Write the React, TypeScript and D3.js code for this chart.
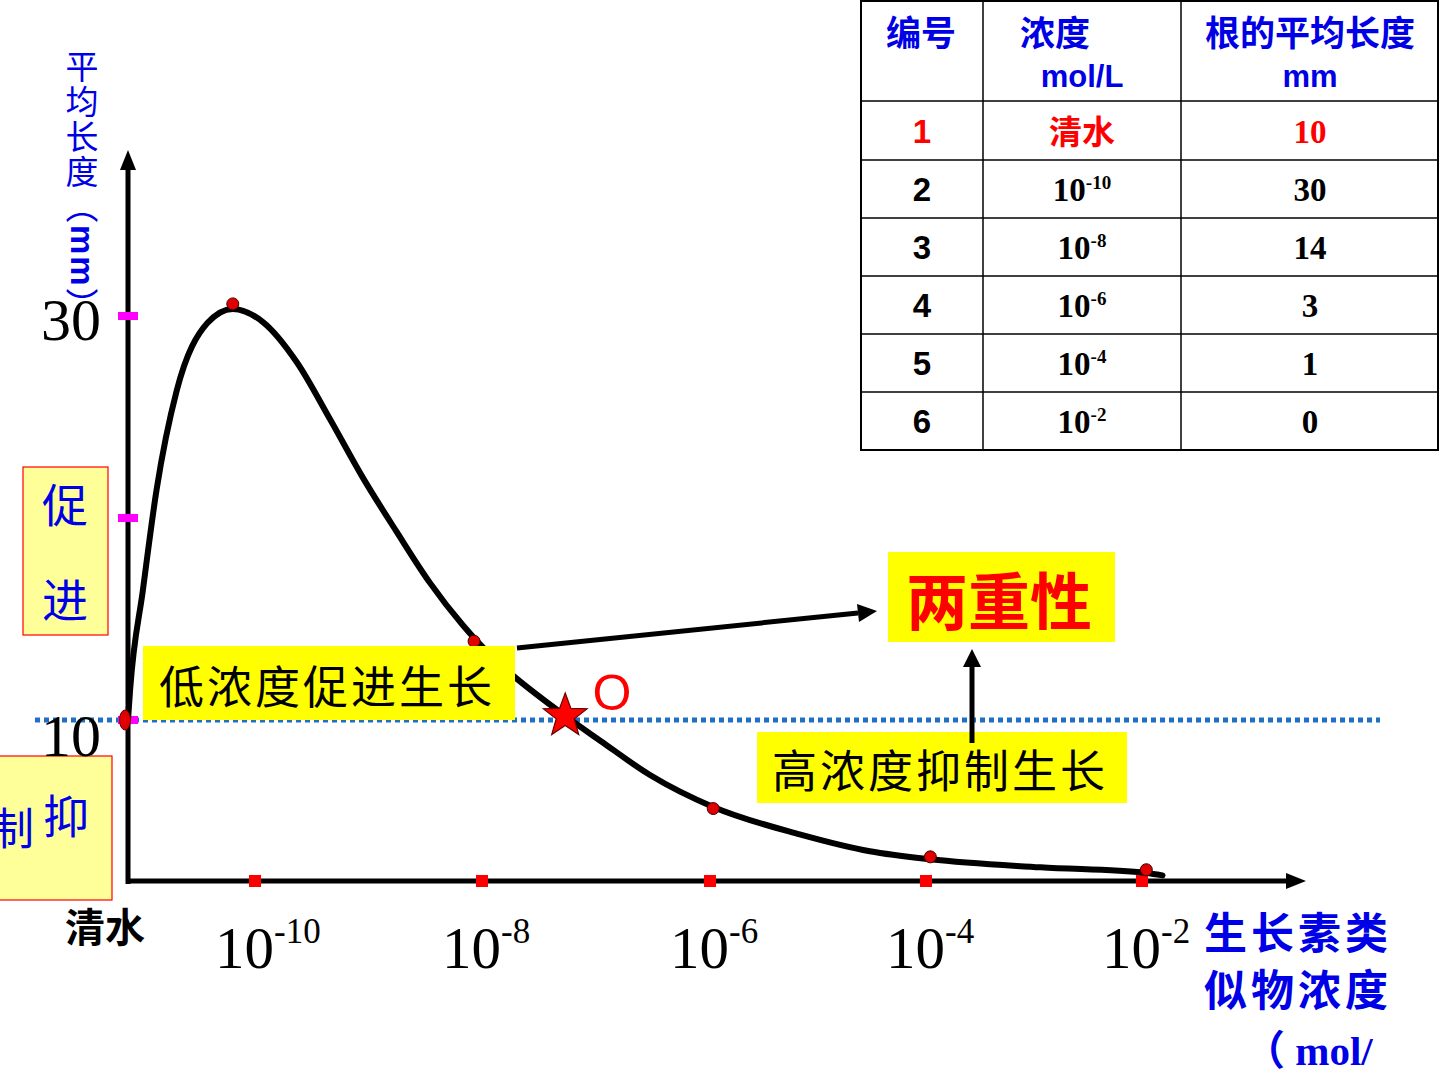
import React from "react";
import * as d3 from "d3";

// ---- data ----
const tableIds = ["1", "2", "3", "4", "5", "6"];
const tableConcExp = ["", "-10", "-8", "-6", "-4", "-2"];
const tableLengths = ["10", "30", "14", "3", "1", "0"];

// x is the exponent of the concentration; 清水 sits at the axis origin
const pointExp = [-11.2, -10.21, -8.07, -5.97, -3.96, -1.96];
const pointValue = [10, 30.6, 13.9, 4.5, 1.5, 0.7];

const curveExp = [-11.2, -11.18, -11.06, -10.93, -10.74, -10.45, -10.21, -9.93, -9.63, -9.34, -9.05, -8.75, -8.46, -8.17, -8.06, -7.27, -6.96, -6.53, -5.97, -5.17, -4.52, -3.96, -2.94, -1.96, -1.81];
const curveValue = [10, 11.5, 16.4, 21.4, 26.3, 29.65, 30.35, 29.7, 27.7, 24.9, 22.0, 19.3, 16.8, 14.7, 14.0, 10.2, 8.7, 6.6, 4.6, 2.9, 1.85, 1.35, 0.85, 0.5, 0.35];

const xTickExp = [-10, -8, -6, -4, -2];
const yTickValues = [10, 20, 30];
const yTickLabels = ["10", "", "30"];

const starExp = -7.27;
const starValue = 10.2;

const BLUE = "#0000e6";
const SERIF = "'Liberation Serif', 'Times New Roman', serif";
const SANS = "'Liberation Sans', Arial, sans-serif";
const CJK = "'Noto Sans CJK SC', sans-serif";

export default function App() {
  const x = d3.scaleLinear().domain([-11.2, -10, -8, -6, -4, -2]).range([128, 255, 482, 710, 926, 1142]);
  const y = d3.scaleLinear().domain([0, 10, 30]).range([881, 720, 316]);

  const curvePts = curveExp.map((e, i) => [x(e), y(curveValue[i])] as [number, number]);
  const line = d3.line().curve(d3.curveMonotoneX);
  const curvePath = line(curvePts) || "";

  const x0 = x(-11.2);
  const yAxisY = y(0);

  // star
  const sx = x(starExp), sy = y(starValue);
  const starPts: string[] = [];
  for (let i = 0; i < 10; i++) {
    const r = i % 2 === 0 ? 23 : 9.5;
    const a = -Math.PI / 2 + (i * Math.PI) / 5;
    starPts.push(`${sx + r * Math.cos(a)},${sy + r * Math.sin(a)}`);
  }

  // table geometry
  const colX = [861, 983, 1181, 1438];
  const rowY = [1, 101, 160, 218, 276, 334, 392, 450];

  return (
    <svg width={1440} height={1080} style={{ position: "absolute", left: 0, top: 0, background: "#fff" }}>
      {/* blue dotted reference line at 10 */}
      <line x1={35} x2={1380} y1={y(10)} y2={y(10)} stroke="#1f6fc4" strokeWidth={5} strokeDasharray="5 4" />

      {/* left boxes */}
      <rect x={23} y={467} width={85} height={168} fill="#ffff99" stroke="#ff0000" strokeWidth={1.2} />
      <text x={65} y={522} fontSize={46} fill={BLUE} fontFamily={CJK} textAnchor="middle">促</text>
      <text x={65} y={617} fontSize={46} fill={BLUE} fontFamily={CJK} textAnchor="middle">进</text>
      <rect x={-2} y={756} width={114} height={144} fill="#ffff99" stroke="#ff0000" strokeWidth={1.2} />
      <text x={12} y={845} fontSize={44} fill={BLUE} fontFamily={CJK} textAnchor="middle">制</text>
      <text x={66} y={833} fontSize={46} fill={BLUE} fontFamily={CJK} textAnchor="middle">抑</text>

      {/* y axis title (vertical) */}
      <text x={82} y={50} fontSize={33} fill={BLUE} fontFamily={CJK} style={{ writingMode: "vertical-rl" as any }} letterSpacing={2}>
        平均长度（<tspan fontFamily={SANS} fontWeight="bold">mm</tspan>）
      </text>

      {/* y tick labels */}
      {yTickValues.map((v, i) =>
        yTickLabels[i] ? (
          <text key={"yl" + v} x={101} y={y(v) + (v === 10 ? 36 : 24)} fontSize={60} fontFamily={SERIF} textAnchor="end" fill="#000">
            {yTickLabels[i]}
          </text>
        ) : null
      )}

      {/* axes */}
      <line x1={x0} x2={x0} y1={166} y2={yAxisY + 3} stroke="#000" strokeWidth={5} />
      <polygon points={`${x0},150 ${x0 - 8},170 ${x0 + 8},170`} fill="#000" />
      <line x1={x0 - 2} x2={1290} y1={yAxisY} y2={yAxisY} stroke="#000" strokeWidth={5} />
      <polygon points={`1306,${yAxisY} 1286,${yAxisY - 8} 1286,${yAxisY + 8}`} fill="#000" />

      {/* magenta y ticks */}
      {yTickValues.map((v) => (
        <rect key={"yt" + v} x={x0 - 10} y={y(v) - 4} width={20} height={8} fill="#ff00ff" />
      ))}

      {/* red x ticks */}
      {xTickExp.map((e) => (
        <rect key={"xt" + e} x={x(e) - 6} y={yAxisY - 6} width={12} height={12} fill="#ff0000" />
      ))}

      {/* curve */}
      <path d={curvePath} fill="none" stroke="#000" strokeWidth={6} strokeLinecap="round" strokeLinejoin="round" />

      {/* data points */}
      {pointExp.map((e, i) =>
        i === 0 ? (
          <ellipse key={"p" + i} cx={x(e) - 3} cy={y(pointValue[i])} rx={5.5} ry={10} fill="#e00000" stroke="#600" strokeWidth={1} />
        ) : (
          <circle key={"p" + i} cx={x(e)} cy={y(pointValue[i])} r={6} fill="#e00000" stroke="#400" strokeWidth={1} />
        )
      )}

      {/* x tick labels */}
      <text x={65} y={942} fontSize={40} fontFamily={CJK} fontWeight="bold" fill="#000">清水</text>
      {xTickExp.map((e) => (
        <text key={"xl" + e} x={x(e) - 40} y={968} fontSize={59} fontFamily={SERIF} fill="#000">
          10<tspan dy={-25} fontSize={35}>{String(e)}</tspan>
        </text>
      ))}

      {/* x axis title */}
      <text x={1204} y={949} fontSize={43} fontFamily={CJK} fontWeight="bold" fill={BLUE} letterSpacing={4}>生长素类</text>
      <text x={1204} y={1006} fontSize={43} fontFamily={CJK} fontWeight="bold" fill={BLUE} letterSpacing={4}>似物浓度</text>
      <text x={1244} y={1065} fontSize={41} fontFamily={SERIF} fontWeight="bold" fill={BLUE}>
        <tspan fontFamily={CJK}>（</tspan> mol/
      </text>

      {/* annotations */}
      <rect x={143} y={646} width={372} height={74} fill="#ffff00" />
      <text x={327} y={704} fontSize={45} fontFamily={CJK} textAnchor="middle" fill="#000" letterSpacing={3}>低浓度促进生长</text>

      <rect x={888} y={552} width={227} height={90} fill="#ffff00" />
      <text x={999} y={625} fontSize={62} fontFamily={CJK} fontWeight="bold" textAnchor="middle" fill="#ff0000">两重性</text>

      <rect x={757} y={732} width={370} height={71} fill="#ffff00" />
      <text x={940} y={788} fontSize={45} fontFamily={CJK} textAnchor="middle" fill="#000" letterSpacing={3}>高浓度抑制生长</text>

      {/* arrow to 两重性 */}
      <line x1={517} y1={648} x2={858} y2={613} stroke="#000" strokeWidth={5} />
      <polygon points="877,611 857,604 859,622" fill="#000" />
      {/* vertical arrow */}
      <line x1={972} y1={743} x2={972} y2={664} stroke="#000" strokeWidth={5} />
      <polygon points="972,649 963,667 981,667" fill="#000" />

      {/* star + O */}
      <polygon points={starPts.join(" ")} fill="#ff0000" stroke="#600" strokeWidth={1.2} />
      <text x={612} y={710} fontSize={50} fontFamily={SANS} textAnchor="middle" fill="#ff0000">O</text>

      {/* table */}
      <rect x={colX[0]} y={rowY[0]} width={colX[3] - colX[0]} height={rowY[7] - rowY[0]} fill="#fff" stroke="#000" strokeWidth={2} />
      {colX.slice(1, 3).map((cx) => (
        <line key={"tc" + cx} x1={cx} x2={cx} y1={rowY[0]} y2={rowY[7]} stroke="#000" strokeWidth={1.5} />
      ))}
      {rowY.slice(1, 7).map((ry) => (
        <line key={"tr" + ry} x1={colX[0]} x2={colX[3]} y1={ry} y2={ry} stroke="#000" strokeWidth={1.5} />
      ))}
      <text x={921} y={46} fontSize={35} fontFamily={CJK} fontWeight="bold" fill={BLUE} textAnchor="middle">编号</text>
      <text x={1055} y={46} fontSize={35} fontFamily={CJK} fontWeight="bold" fill={BLUE} textAnchor="middle">浓度</text>
      <text x={1082} y={87} fontSize={31} fontFamily={SANS} fontWeight="bold" fill={BLUE} textAnchor="middle">mol/L</text>
      <text x={1310} y={46} fontSize={35} fontFamily={CJK} fontWeight="bold" fill={BLUE} textAnchor="middle">根的平均长度</text>
      <text x={1310} y={87} fontSize={31} fontFamily={SANS} fontWeight="bold" fill={BLUE} textAnchor="middle">mm</text>
      {tableIds.map((id, i) => {
        const cy = (rowY[i + 1] + rowY[i + 2]) / 2;
        const color = i === 0 ? "#ff0000" : "#000";
        return (
          <g key={"row" + id}>
            <text x={922} y={cy + 12} fontSize={33} fontFamily={SANS} fontWeight="bold" fill={color} textAnchor="middle">{id}</text>
            {tableConcExp[i] === "" ? (
              <text x={1082} y={cy + 13} fontSize={33} fontFamily={CJK} fontWeight="bold" fill={color} textAnchor="middle">清水</text>
            ) : (
              <text x={1082} y={cy + 12} fontSize={33} fontFamily={SERIF} fontWeight="bold" fill={color} textAnchor="middle">
                10<tspan dy={-12} fontSize={19}>{tableConcExp[i]}</tspan>
              </text>
            )}
            <text x={1310} y={cy + 12} fontSize={33} fontFamily={SERIF} fontWeight="bold" fill={color} textAnchor="middle">{tableLengths[i]}</text>
          </g>
        );
      })}
    </svg>
  );
}
